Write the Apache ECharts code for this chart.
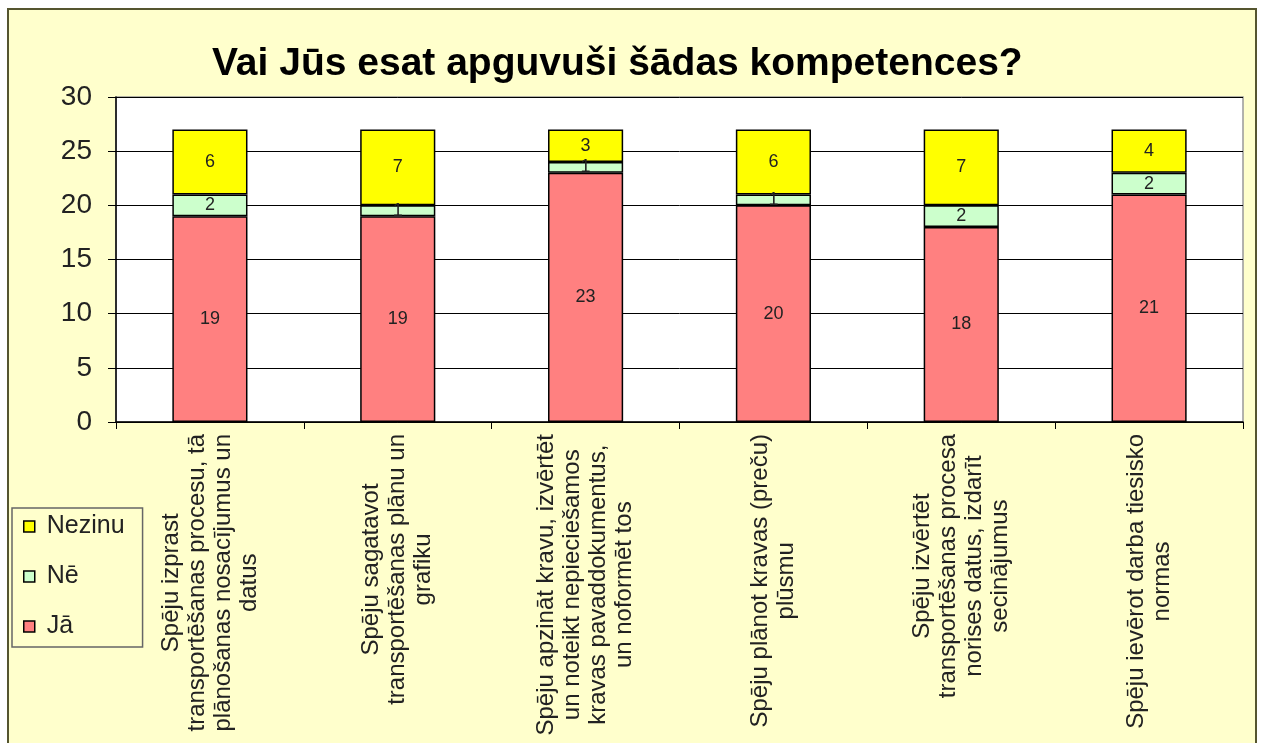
<!DOCTYPE html>
<html>
<head>
<meta charset="utf-8">
<script src="https://cdn.jsdelivr.net/npm/echarts@6/dist/echarts.min.js"></script>
<style>
  body { margin: 0; background: #fff; }
  #frame { position: absolute; left: 7px; top: 8px; width: 1246px; height: 800px;
           background: #ffffcc; border: 2px solid #55552f; }
  #main { position: absolute; left: 0; top: 0; width: 1261px; height: 743px; }
</style>
</head>
<body>
<div id="frame"></div>
<div id="main"></div>
<script type="text/javascript">
var categories = [
  'Spēju izprast\ntransportēšanas procesu, tā\nplānošanas nosacījumus un\ndatus',
  'Spēju sagatavot\ntransportēšanas plānu un\ngrafiku',
  'Spēju apzināt kravu, izvērtēt\nun noteikt nepieciešamos\nkravas pavaddokumentus,\nun noformēt tos',
  'Spēju plānot kravas (preču)\nplūsmu',
  'Spēju izvērtēt\ntransportēšanas procesa\nnorises datus, izdarīt\nsecinājumus',
  'Spēju ievērot darba tiesisko\nnormas'
];
var ja = [19, 19, 23, 20, 18, 21];
var ne = [2, 1, 1, 1, 2, 2];
var nezinu = [6, 7, 3, 6, 7, 4];

var font = 'Liberation Sans, Arial, sans-serif';
var chart = echarts.init(document.getElementById('main'));

function seg(name, data, color) {
  return {
    name: name,
    type: 'bar',
    stack: 'total',
    barWidth: '40%',
    data: data,
    itemStyle: { color: color, borderColor: '#000', borderWidth: 1.5 },
    label: {
      show: true,
      position: 'inside',
      color: '#222',
      fontFamily: font,
      fontSize: 18
    }
  };
}

var option = {
  backgroundColor: 'transparent',
  animation: false,
  title: {
    text: 'Vai Jūs esat apguvuši šādas kompetences?',
    left: 207,
    top: 40,
    textStyle: { fontFamily: font, fontWeight: 'bold', fontSize: 39, color: '#000' }
  },
  legend: {
    orient: 'vertical',
    left: 12,
    top: 508,
    data: ['Nezinu', 'Nē', 'Jā'],
    icon: 'rect',
    itemWidth: 11,
    itemHeight: 11,
    itemGap: 25,
    padding: [6, 18, 8, 11],
    borderColor: '#666',
    borderWidth: 1.5,
    itemStyle: { borderColor: '#000', borderWidth: 1.5 },
    textStyle: { fontFamily: font, fontSize: 25, color: '#222', padding: [0, 0, 0, 7] }
  },
  grid: {
    left: 116,
    right: 18,
    top: 97,
    bottom: 321,
    show: true,
    backgroundColor: '#fff',
    borderColor: '#999',
    borderWidth: 1.5
  },
  xAxis: {
    type: 'category',
    data: categories,
    axisLine: { lineStyle: { color: '#000', width: 1.5 } },
    axisTick: { show: true, length: 7, lineStyle: { color: '#000' } },
    axisLabel: {
      interval: 0,
      rotate: 90,
      margin: 12,
      color: '#222',
      formatter: function (v) {
        return v.split('\n').map(function (l) { return '{c|' + l + '}'; }).join('\n');
      },
      rich: {
        c: { align: 'center', fontFamily: font, fontSize: 24, lineHeight: 26, color: '#222' }
      }
    }
  },
  yAxis: {
    type: 'value',
    min: 0,
    max: 30,
    interval: 5,
    axisLine: { show: true, lineStyle: { color: '#000', width: 1.5 } },
    axisTick: { show: true, length: 8, lineStyle: { color: '#000' } },
    axisLabel: { margin: 24, color: '#222', fontFamily: font, fontSize: 28 },
    splitLine: { lineStyle: { color: '#000', width: 1 } }
  },
  series: [
    seg('Jā', ja, '#ff8080'),
    seg('Nē', ne, '#ccffcc'),
    seg('Nezinu', nezinu, '#ffff00')
  ]
};

chart.setOption(option);
</script>
</body>
</html>
